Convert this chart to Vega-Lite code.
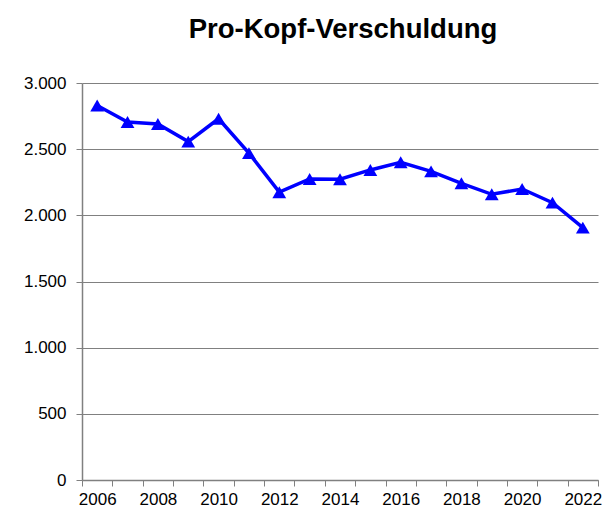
{
  "$schema": "https://vega.github.io/schema/vega-lite/v6.json",
  "autosize": {"type": "none"},
  "width": 516,
  "height": 397,
  "padding": {"left": 82, "top": 83, "right": 17, "bottom": 30},
  "background": "white",
  "title": {
    "text": "Pro-Kopf-Verschuldung",
    "font": "Liberation Sans",
    "fontSize": 27.5,
    "fontWeight": "bold",
    "color": "black",
    "anchor": "middle",
    "baseline": "alphabetic",
    "offset": 9,
    "dx": 3
  },
  "data": {
    "values": [
      {"jahr": 2006, "wert": 2830},
      {"jahr": 2007, "wert": 2705},
      {"jahr": 2008, "wert": 2690},
      {"jahr": 2009, "wert": 2557},
      {"jahr": 2010, "wert": 2730},
      {"jahr": 2011, "wert": 2470},
      {"jahr": 2012, "wert": 2175},
      {"jahr": 2013, "wert": 2275},
      {"jahr": 2014, "wert": 2273},
      {"jahr": 2015, "wert": 2343},
      {"jahr": 2016, "wert": 2401},
      {"jahr": 2017, "wert": 2332},
      {"jahr": 2018, "wert": 2242},
      {"jahr": 2019, "wert": 2159},
      {"jahr": 2020, "wert": 2199},
      {"jahr": 2021, "wert": 2096},
      {"jahr": 2022, "wert": 1907}
    ]
  },
  "mark": {
    "type": "line",
    "color": "#0000ff",
    "strokeWidth": 3.5,
    "point": {"shape": "triangle-up", "size": 190, "filled": true, "color": "#0000ff", "opacity": 1}
  },
  "encoding": {
    "x": {
      "field": "jahr",
      "type": "ordinal",
      "scale": {"paddingInner": 0, "paddingOuter": 0},
      "axis": {
        "title": null,
        "labelAngle": 0,
        "labelExpr": "datum.value % 2 == 0 ? datum.label : ''",
        "tickBand": "extent",
        "grid": false,
        "labelFont": "Liberation Sans",
        "labelFontSize": 17,
        "labelColor": "black",
        "labelPadding": 5,
        "tickSize": 6,
        "tickColor": "#808080",
        "domainColor": "#808080",
        "domainWidth": 1.5,
        "labelOverlap": false
      }
    },
    "y": {
      "field": "wert",
      "type": "quantitative",
      "scale": {"domain": [0, 3000], "nice": false},
      "axis": {
        "title": null,
        "values": [0, 500, 1000, 1500, 2000, 2500, 3000],
        "labelExpr": "replace(format(datum.value, ','), ',', '.')",
        "labelFont": "Liberation Sans",
        "labelFontSize": 17,
        "labelColor": "black",
        "labelPadding": 10,
        "tickSize": 6,
        "tickColor": "#808080",
        "domainColor": "#808080",
        "domainWidth": 1.5,
        "grid": true,
        "gridColor": "#808080",
        "gridWidth": 1.2,
        "gridOpacity": 1
      }
    }
  },
  "config": {
    "view": {"stroke": null}
  }
}
